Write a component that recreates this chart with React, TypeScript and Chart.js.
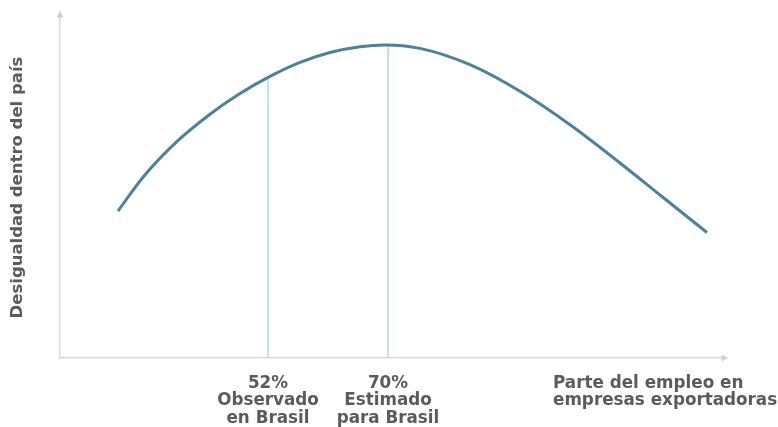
import React, { useEffect, useRef } from "react";
import { Chart, registerables } from "chart.js";

Chart.register(...registerables);

// Share of employment in exporting firms (%) along the schematic x axis
const curveX = [29.5, 33.25, 38.35, 43.3, 47.5, 52, 56.8, 61.3, 65.8, 69.55, 74.8, 82.3, 89.8, 97.3, 104.8, 110.8, 117.85];
// Within-country inequality (index, schematic)
const curveY = [43.1, 53.0, 63.5, 71.5, 77.2, 82.3, 86.7, 89.6, 91.3, 91.8, 90.8, 86.0, 78.2, 68.4, 57.2, 47.8, 36.8];

const markerX = [52, 70];
const markerTop = [82.3, 91.8];
const markerLabels = [
  ["52%", "Observado", "en Brasil"],
  ["70%", "Estimado", "para Brasil"],
];
const xTitleLines = ["Parte del empleo en", "empresas exportadoras"];
const yTitle = "Desigualdad dentro del país";

const X_MIN = 20.8;
const X_MAX = 120.1;
const Y_MIN = 0;
const Y_MAX = 100;

const TEXT_COLOR = "#5b5b5b";
const AXIS_COLOR = "#d9d9d9";
const FONT_FAMILY = "'DejaVu Sans', sans-serif";

const axisArrows = {
  id: "axisArrows",
  afterDraw(chart: any) {
    const { ctx, chartArea } = chart;
    const { left, right, top, bottom } = chartArea;
    ctx.save();
    ctx.fillStyle = "#cfcfcf";
    // up arrow
    ctx.beginPath();
    ctx.moveTo(left, top - 6);
    ctx.lineTo(left - 3.5, top + 0.5);
    ctx.lineTo(left + 3.5, top + 0.5);
    ctx.closePath();
    ctx.fill();
    // right arrow
    ctx.beginPath();
    ctx.moveTo(right + 6, bottom);
    ctx.lineTo(right - 0.5, bottom - 3.5);
    ctx.lineTo(right - 0.5, bottom + 3.5);
    ctx.closePath();
    ctx.fill();
    // x-axis title (left-aligned block near the right end)
    ctx.fillStyle = TEXT_COLOR;
    ctx.font = `bold 16.8px ${FONT_FAMILY}`;
    ctx.textAlign = "left";
    ctx.textBaseline = "middle";
    xTitleLines.forEach((line, i) => {
      ctx.fillText(line, right - 169, bottom + 26 + i * 17);
    });
    ctx.restore();
  },
};

export default function App() {
  const ref = useRef<HTMLCanvasElement | null>(null);

  useEffect(() => {
    if (!ref.current) return;
    const curve = curveX.map((x, i) => ({ x, y: curveY[i] }));
    const markerSets = markerX.map((x, i) => ({
      data: [
        { x, y: Y_MIN },
        { x, y: markerTop[i] },
      ],
      borderColor: "#aadcf0",
      borderWidth: 1.5,
      pointRadius: 0,
      fill: false,
      tension: 0,
    }));
    const chart = new Chart(ref.current, {
      type: "line",
      data: {
        datasets: [
          {
            data: curve,
            borderColor: "#4f8099",
            borderWidth: 3,
            pointRadius: 0,
            fill: false,
            cubicInterpolationMode: "monotone",
          } as any,
          ...markerSets,
        ],
      },
      options: {
        animation: false,
        responsive: false,
        layout: { padding: { left: 4, top: 17, right: 56, bottom: 0 } },
        plugins: {
          legend: { display: false },
          tooltip: { enabled: false },
        },
        scales: {
          x: {
            type: "linear",
            min: X_MIN,
            max: X_MAX,
            offset: false,
            grid: { display: false, drawTicks: false },
            border: { display: true, color: AXIS_COLOR, width: 1.5 },
            afterBuildTicks: (scale: any) => {
              scale.ticks = markerX.map((v) => ({ value: v }));
            },
            afterFit: (scale: any) => {
              scale.height = 69;
            },
            ticks: {
              autoSkip: false,
              maxRotation: 0,
              padding: 17,
              color: TEXT_COLOR,
              font: { family: FONT_FAMILY, size: 16.8, weight: "bold", lineHeight: 1.03 },
              callback: (value: any) => {
                const idx = markerX.indexOf(Number(value));
                return idx >= 0 ? markerLabels[idx] : "";
              },
            },
          },
          y: {
            type: "linear",
            min: Y_MIN,
            max: Y_MAX,
            grid: { display: false, drawTicks: false },
            border: { display: true, color: AXIS_COLOR, width: 1.5 },
            ticks: { display: false },
            afterFit: (scale: any) => {
              scale.width = 56;
            },
            title: {
              display: true,
              text: yTitle,
              color: TEXT_COLOR,
              padding: { top: 4, bottom: 4 },
              font: { family: FONT_FAMILY, size: 16.5, weight: "bold", lineHeight: 1.2 },
            },
          },
        },
      } as any,
      plugins: [axisArrows],
    });
    return () => chart.destroy();
  }, []);

  return (
    <div style={{ position: "fixed", left: 0, top: 0, width: 778, height: 427, background: "#fff" }}>
      <canvas ref={ref} width={778} height={427} style={{ display: "block" }} />
    </div>
  );
}
